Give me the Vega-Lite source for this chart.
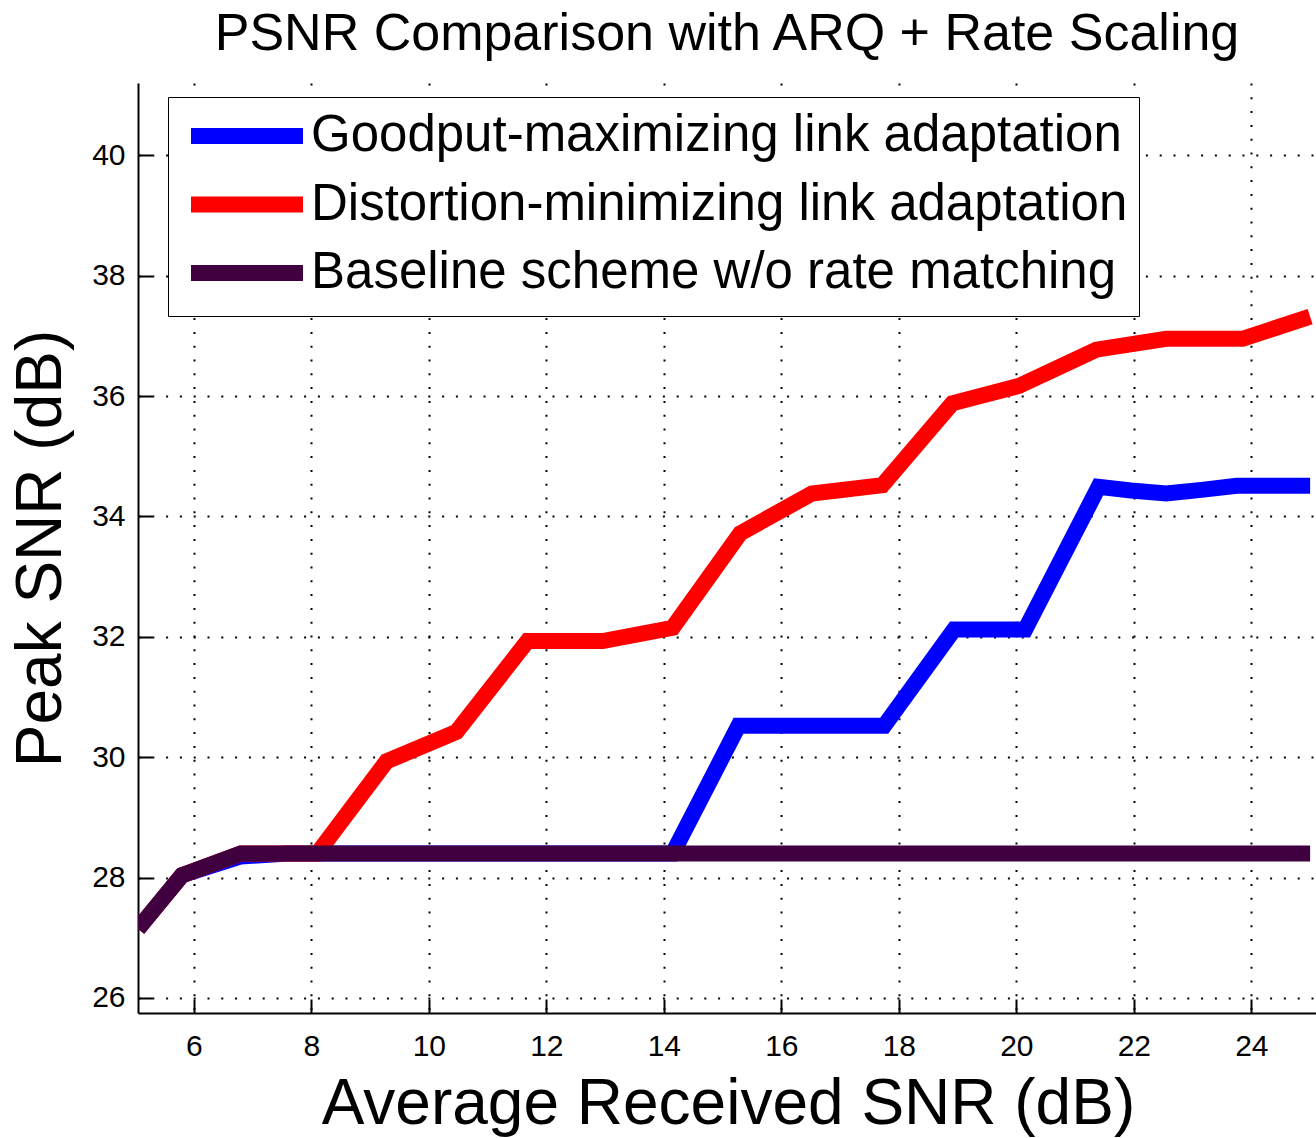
{
  "$schema": "https://vega.github.io/schema/vega-lite/v6.json",
  "description": "Peak SNR versus average received SNR for three link-adaptation schemes (ARQ + rate scaling).",
  "autosize": "none",
  "width": 1178,
  "height": 930,
  "padding": {"left": 138, "top": 83, "right": 0, "bottom": 125},
  "background": "white",
  "title": {
    "text": "PSNR Comparison with ARQ + Rate Scaling",
    "font": "Liberation Sans",
    "fontSize": 52,
    "fontWeight": "normal",
    "color": "black",
    "anchor": "middle",
    "baseline": "alphabetic",
    "offset": 28,
    "dy": 47
  },
  "config": {
    "view": {"stroke": null},
    "axis": {
      "domainColor": "black",
      "domainWidth": 2,
      "tickColor": "black",
      "tickWidth": 2,
      "tickSize": -14,
      "grid": true,
      "gridColor": "black",
      "gridWidth": 2,
      "gridDash": [2, 11.8],
      "labelFont": "Liberation Sans",
      "labelFontSize": 30,
      "labelColor": "black",
      "titleFont": "Liberation Sans",
      "titleFontSize": 64,
      "titleFontWeight": "normal",
      "titleColor": "black"
    }
  },
  "data": {
    "values": [
      {"scheme": "Goodput-maximizing link adaptation", "snr": 5.05, "psnr": 27.15},
      {"scheme": "Goodput-maximizing link adaptation", "snr": 5.8, "psnr": 28.04},
      {"scheme": "Goodput-maximizing link adaptation", "snr": 6.8, "psnr": 28.35},
      {"scheme": "Goodput-maximizing link adaptation", "snr": 7.6, "psnr": 28.4},
      {"scheme": "Goodput-maximizing link adaptation", "snr": 14.15, "psnr": 28.4},
      {"scheme": "Goodput-maximizing link adaptation", "snr": 15.27, "psnr": 30.52},
      {"scheme": "Goodput-maximizing link adaptation", "snr": 17.75, "psnr": 30.52},
      {"scheme": "Goodput-maximizing link adaptation", "snr": 18.94, "psnr": 32.12},
      {"scheme": "Goodput-maximizing link adaptation", "snr": 20.15, "psnr": 32.12},
      {"scheme": "Goodput-maximizing link adaptation", "snr": 21.4, "psnr": 34.49},
      {"scheme": "Goodput-maximizing link adaptation", "snr": 21.95, "psnr": 34.43},
      {"scheme": "Goodput-maximizing link adaptation", "snr": 22.55, "psnr": 34.38},
      {"scheme": "Goodput-maximizing link adaptation", "snr": 23.15, "psnr": 34.44},
      {"scheme": "Goodput-maximizing link adaptation", "snr": 23.75, "psnr": 34.51},
      {"scheme": "Goodput-maximizing link adaptation", "snr": 25.0, "psnr": 34.51},
      {"scheme": "Distortion-minimizing link adaptation", "snr": 5.05, "psnr": 27.15},
      {"scheme": "Distortion-minimizing link adaptation", "snr": 5.8, "psnr": 28.04},
      {"scheme": "Distortion-minimizing link adaptation", "snr": 6.8, "psnr": 28.4},
      {"scheme": "Distortion-minimizing link adaptation", "snr": 8.1, "psnr": 28.4},
      {"scheme": "Distortion-minimizing link adaptation", "snr": 9.28, "psnr": 29.93},
      {"scheme": "Distortion-minimizing link adaptation", "snr": 10.47, "psnr": 30.42},
      {"scheme": "Distortion-minimizing link adaptation", "snr": 11.68, "psnr": 31.93},
      {"scheme": "Distortion-minimizing link adaptation", "snr": 12.96, "psnr": 31.93},
      {"scheme": "Distortion-minimizing link adaptation", "snr": 14.15, "psnr": 32.15},
      {"scheme": "Distortion-minimizing link adaptation", "snr": 15.3, "psnr": 33.72},
      {"scheme": "Distortion-minimizing link adaptation", "snr": 16.52, "psnr": 34.38},
      {"scheme": "Distortion-minimizing link adaptation", "snr": 17.72, "psnr": 34.52},
      {"scheme": "Distortion-minimizing link adaptation", "snr": 18.91, "psnr": 35.88},
      {"scheme": "Distortion-minimizing link adaptation", "snr": 20.05, "psnr": 36.17},
      {"scheme": "Distortion-minimizing link adaptation", "snr": 21.36, "psnr": 36.77},
      {"scheme": "Distortion-minimizing link adaptation", "snr": 22.55, "psnr": 36.95},
      {"scheme": "Distortion-minimizing link adaptation", "snr": 23.85, "psnr": 36.95},
      {"scheme": "Distortion-minimizing link adaptation", "snr": 25.0, "psnr": 37.32},
      {"scheme": "Baseline scheme w/o rate matching", "snr": 5.05, "psnr": 27.15},
      {"scheme": "Baseline scheme w/o rate matching", "snr": 5.8, "psnr": 28.04},
      {"scheme": "Baseline scheme w/o rate matching", "snr": 6.8, "psnr": 28.4},
      {"scheme": "Baseline scheme w/o rate matching", "snr": 25.0, "psnr": 28.4}
    ]
  },
  "mark": {
    "type": "line",
    "strokeWidth": 16,
    "strokeCap": "butt",
    "strokeJoin": "miter",
    "clip": true
  },
  "encoding": {
    "x": {
      "field": "snr",
      "type": "quantitative",
      "scale": {"domain": [5.05, 25.1], "nice": false, "zero": false},
      "axis": {
        "values": [6, 8, 10, 12, 14, 16, 18, 20, 22, 24],
        "labelPadding": 32,
        "title": "Average Received SNR (dB)",
        "titleX": 590,
        "titleY": 110,
        "titleBaseline": "alphabetic",
        "titleAlign": "center"
      }
    },
    "y": {
      "field": "psnr",
      "type": "quantitative",
      "scale": {"domain": [25.75, 41.2], "nice": false, "zero": false},
      "axis": {
        "values": [26, 28, 30, 32, 34, 36, 38, 40],
        "labelPadding": 27,
        "title": "Peak SNR (dB)",
        "titleAngle": -90,
        "titleX": -78,
        "titleY": 465,
        "titleBaseline": "alphabetic",
        "titleAlign": "center"
      }
    },
    "color": {
      "field": "scheme",
      "type": "nominal",
      "scale": {
        "domain": [
          "Goodput-maximizing link adaptation",
          "Distortion-minimizing link adaptation",
          "Baseline scheme w/o rate matching"
        ],
        "range": ["#0000ff", "#ff0000", "#400040"]
      },
      "legend": {
        "title": null,
        "orient": "none",
        "legendX": 30,
        "legendY": 14,
        "symbolType": "M-2.8,0L2.8,0",
        "symbolSize": 1600,
        "symbolStrokeWidth": 16,
        "symbolOffset": 40,
        "labelFont": "Liberation Sans",
        "labelFontSize": 51,
        "labelColor": "black",
        "labelLimit": 1200,
        "labelOffset": 36,
        "rowPadding": 4.5,
        "padding": 11,
        "strokeColor": "black",
        "fillColor": "white"
      }
    }
  }
}
